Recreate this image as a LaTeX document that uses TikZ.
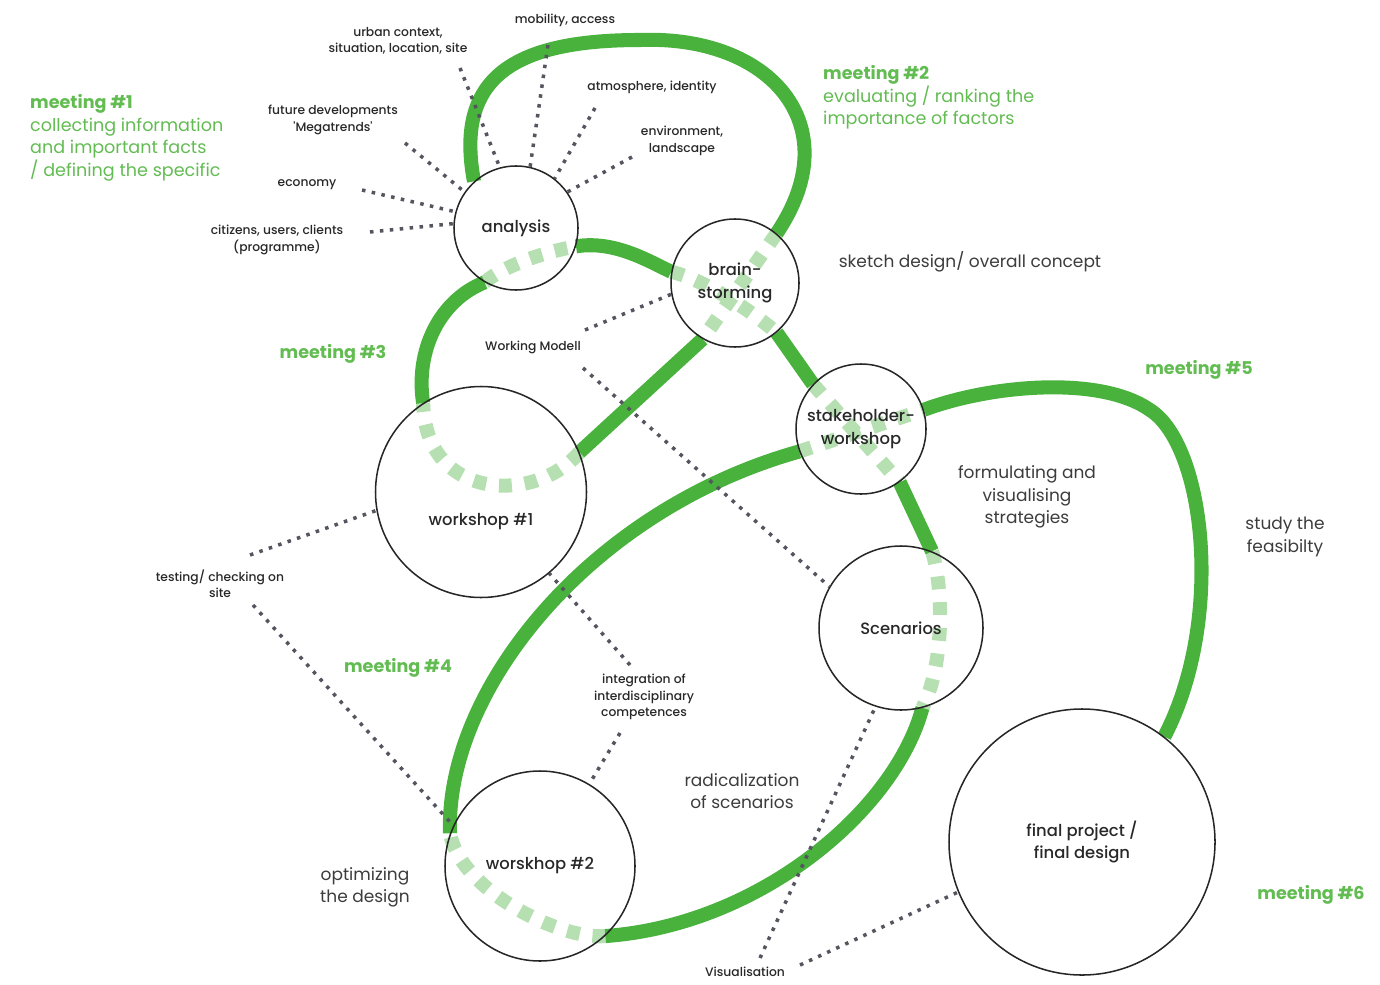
\documentclass[tikz,border=0pt]{standalone}
\usepackage{fontspec}
\setmainfont{Poppins}
\newfontfamily\mediumfont{Poppins Medium}
\usepackage{tikz}
\usetikzlibrary{calc,backgrounds}

\definecolor{flowgreen}{RGB}{72,178,60}
\definecolor{textgreen}{RGB}{98,188,82}
\definecolor{darktext}{RGB}{40,40,40}
\definecolor{notetext}{RGB}{60,60,60}
\definecolor{dotgray}{RGB}{85,85,95}
\newcommand\factorsize{\mediumfont\fontsize{10.5}{14}\selectfont}
\newcommand\stagesize{\mediumfont\fontsize{14}{19.5}\selectfont}
\newcommand\notesize{\fontsize{14.5}{19}\selectfont}
\newcommand\meetsize{\fontsize{15}{19.4}\selectfont}

\begin{document}
\begin{tikzpicture}[x=0.03cm,y=-0.03cm]
			\tikzset{stage/.style={circle,draw=black!85,line width=1.3pt,inner sep=0pt,align=center,font=\stagesize,text=darktext}}
			\tikzset{flow/.style={draw=flowgreen,line width=12pt}}
			\tikzset{hidden/.style={draw=flowgreen!40,line width=12pt,dash pattern=on 11pt off 11pt}}
			\tikzset{factorline/.style={draw=dotgray,line width=3pt,dash pattern=on 3pt off 5.5pt}}
			\tikzset{factor/.style={font=\factorsize,align=center,text=darktext,inner sep=1pt}}
			\tikzset{note/.style={font=\notesize,align=center,text=notetext,inner sep=1pt}}
			\tikzset{meet/.style={font=\meetsize,text=textgreen,inner sep=0pt}}
			\useasboundingbox (0,0) rectangle (1380,984);

			% stages
			\node[stage,minimum size=3.72cm] (analysis) at (516,228) {analysis};
			\node[stage,minimum size=3.84cm] (brain) at (735,283) {brain-\\storming};
			\node[stage,minimum size=3.9cm] (stake) at (861,429) {stakeholder-\\workshop};
			\node[stage,minimum size=6.33cm,label={[font=\stagesize,text=darktext,yshift=-0.9cm]center:workshop \#1}] (ws1) at (481,492) {};
			\node[stage,minimum size=4.92cm] (scen) at (901,628) {Scenarios};
			\node[stage,minimum size=5.7cm] (ws2) at (540,866) {worskhop \#2};
			\node[stage,minimum size=7.98cm] (final) at (1082,842) {final project /\\final design};

			% factors of the analysis
			\node[factor] (urban) at (398,41) {urban context,\\situation, location, site};
			\node[factor] (mobility) at (565,20) {mobility, access};
			\node[factor] (atmo) at (652,87) {atmosphere, identity};
			\node[factor] (environ) at (682,141) {environment,\\landscape};
			\node[factor] (future) at (333,120) {future developments\\'Megatrends'};
			\node[factor] (economy) at (307,185) {economy};
			\node[factor] (citizens) at (277,240) {citizens, users, clients\\(programme)};
			\node[factor] (model) at (533,347) {Working Modell};
			\node[factor] (testing) at (220,584) {testing/ checking on\\site};
			\node[factor] (integr) at (644,697) {integration of\\interdisciplinary\\competences};
			\node[factor] (visu) at (745,972) {Visualisation};

			\foreach \lab/\dx/\dy/\ang in {urban/62/27/105,mobility/-17/25/77,atmo/-57/21/52,environ/-50/16/35,future/72/23/145,economy/55/5/165,citizens/93/-8/176}
				\draw[factorline] ($(\lab)+(\dx,\dy)$) -- (analysis.\ang);
			\draw[factorline] ($(model)+(52,-17)$) -- (brain.190);
			\draw[factorline] ($(model)+(50,21)$) -- (scen.150);
			\draw[factorline] ($(testing)+(30,-29)$) -- (ws1.190);
			\draw[factorline] ($(testing)+(33,21)$) -- (ws2.155);
			\draw[factorline] ($(integr)+(-14,-32)$) -- (ws1.-50);
			\draw[factorline] ($(integr)+(-24,36)$) -- (ws2.59);
			\draw[factorline] ($(visu)+(15,-14)$) -- (scen.252);
			\draw[factorline] ($(visu)+(55,-7)$) -- (final.202);

			% notes
			\node[note] (sketch) at (970,262) {sketch design/ overall concept};
			\node[note] (formul) at (1027,497) {formulating and\\visualising\\strategies};
			\node[note] (study) at (1285,537) {study the\\feasibilty};
			\node[note] (radical) at (742,791) {radicalization\\of scenarios};
			\node[note] (optim) at (365,887) {optimizing\\the design};

			% meetings
			\node[meet,anchor=north west,align=left] (m1) at (30,94) {\textbf{meeting \#1}\\collecting information\\and important facts\\/ defining the specific};
			\node[meet,anchor=north west,align=left] (m2) at (823,65) {\textbf{meeting \#2}\\evaluating / ranking the\\importance of factors};
			\node[meet,font=\meetsize\bfseries] (m3) at (333,354) {meeting \#3};
			\node[meet,font=\meetsize\bfseries] (m4) at (398,668) {meeting \#4};
			\node[meet,font=\meetsize\bfseries] (m5) at (1199,370) {meeting \#5};
			\node[meet,font=\meetsize\bfseries] (m6) at (1311,895) {meeting \#6};

			\begin{pgfonlayer}{background}
			% the path inside the circles
			\draw[hidden] (analysis.240) .. controls (505,265) and (545,252) .. (analysis.343);
			\draw[hidden] (brain.170) .. controls (705,280) and (750,310) .. (brain.310);
			\draw[hidden] (brain.50) -- (brain.240);
			\draw[hidden] (stake.137) -- (stake.306);
			\draw[hidden] (stake.200) -- (stake.17);
			\draw[hidden] (scen.68) .. controls (944,590) and (944,665) .. (scen.285);
			\draw[hidden] (ws2.313) .. controls (560,940) and (460,890) .. (ws2.160);
			\draw[hidden] (ws1.22) .. controls (535,505) and (425,500) .. (ws1.123);
			% the path between them
			\draw[flow] (ws1.123) .. controls (415,350) and (440,300) .. (analysis.240);
			\draw[flow] (analysis.343) .. controls (615,240) and (650,262) .. (brain.170);
			\draw[flow] (analysis.132) .. controls (455,80) and (510,40) .. (640,40)
				.. controls (770,35) and (850,125) .. (brain.50);
			\draw[flow] (brain.240) -- (ws1.22);
			\draw[flow] (brain.310) -- (stake.137);
			\draw[flow] (stake.306) -- (scen.68);
			\draw[flow] (scen.285) .. controls (895,810) and (760,925) .. (ws2.313);
			\draw[flow] (ws2.160) .. controls (445,690) and (590,510) .. (stake.200);
			\draw[flow] (stake.17) .. controls (990,385) and (1100,375) .. (1150,410)
				.. controls (1205,445) and (1225,620) .. (final.52);
			\end{pgfonlayer}
\end{tikzpicture}
\end{document}
